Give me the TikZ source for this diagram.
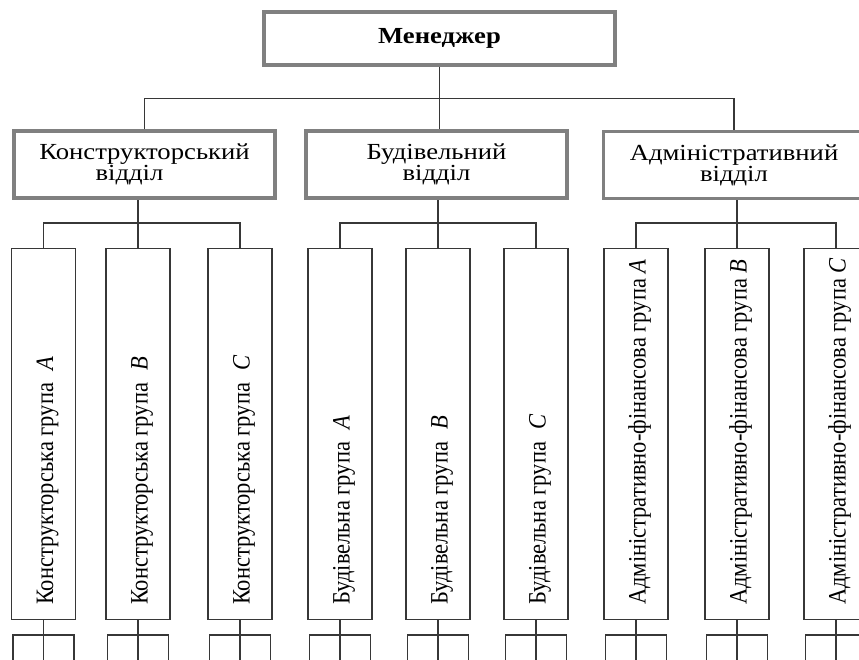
\documentclass[tikz,border=0pt]{standalone}
\usepackage{fontspec}
\setmainfont{Liberation Serif}
\newfontfamily\narrowserif[FakeStretch=0.9]{Liberation Serif}
\newfontfamily\wideserif[FakeStretch=1.16]{Liberation Serif}
\usetikzlibrary{positioning}
\definecolor{framegray}{RGB}{128,128,128}
\definecolor{linegray}{RGB}{55,55,55}

\begin{document}
\begin{tikzpicture}[x=1pt,y=-1pt,
  head/.style={draw=framegray, line width=3.5pt, minimum width=351pt, minimum height=53pt, inner sep=0pt, font=\wideserif\bfseries\fontsize{23}{23}\selectfont},
  dept/.style={draw=framegray, line width=3.5pt, minimum width=261pt, minimum height=67pt, inner sep=0pt, align=center, font=\wideserif\fontsize{23}{18}\selectfont},
  grp/.style={draw=linegray, line width=1.2pt, minimum width=64pt, minimum height=371pt, inner sep=0pt},
  grptext/.style={rotate=90, anchor=base west, inner sep=0pt, font=\narrowserif\fontsize{25}{25}\selectfont},
  cell/.style={draw=linegray, line width=1.2pt, minimum width=61pt, minimum height=50pt, inner sep=0pt},
  link/.style={draw=linegray, line width=1.4pt}]
\useasboundingbox (0,0) rectangle (859,659);
\clip (0,0) rectangle (859,659);

% manager and departments
\node[head] (mgr) at (439.5,38.5) {Менеджер};
\node[dept] (kons) at (144.5,164.5) {Конструкторський\\відділ\kern30pt};
\node[dept] (bud) at (436.5,164.5) {Будівельний\\відділ};
\node[dept] (adm) at (734,165) {Адміністративний\\відділ};

\draw[link] (kons.north) -- ++(0,-31) -| (adm.north);
\draw[link] (mgr.south) -- (mgr.south |- bud.north);

% groups with their cells below
\foreach \n/\x/\t in {kA/43.5/{Конструкторська група\enspace\textit{A}},
    kB/138/{Конструкторська група\enspace\textit{B}},
    kC/240/{Конструкторська група\enspace\textit{C}},
    bA/340/{Будівельна група\enspace\textit{A}},
    bB/438/{Будівельна група\enspace\textit{B}},
    bC/536/{Будівельна група\enspace\textit{C}},
    aA/636/{Адміністративно-фінансова група \textit{A}},
    aB/737/{Адміністративно-фінансова група \textit{B}},
    aC/836/{Адміністративно-фінансова група \textit{C}}} {
  \node[grp] (\n) at (\x,434) {};
  \node[xshift=9.5pt, yshift=15pt, grptext] (\n-t) at (\n.south) {\t};
  \node[cell] (\n-c) at (\x,660) {};
  \draw[link] (\n.south) -- (\n-c.south);
}

% buses under the departments
\draw[link] (kA.north) -- ++(0,-25) -| (kC.north);
\draw[link] (kB.north) -- (kB.north |- kons.south);
\draw[link] (bA.north) -- ++(0,-25) -| (bC.north);
\draw[link] (bB.north) -- (bB.north |- bud.south);
\draw[link] (aA.north) -- ++(0,-25) -| (aC.north);
\draw[link] (aB.north) -- (aB.north |- adm.south);
\end{tikzpicture}
\end{document}
